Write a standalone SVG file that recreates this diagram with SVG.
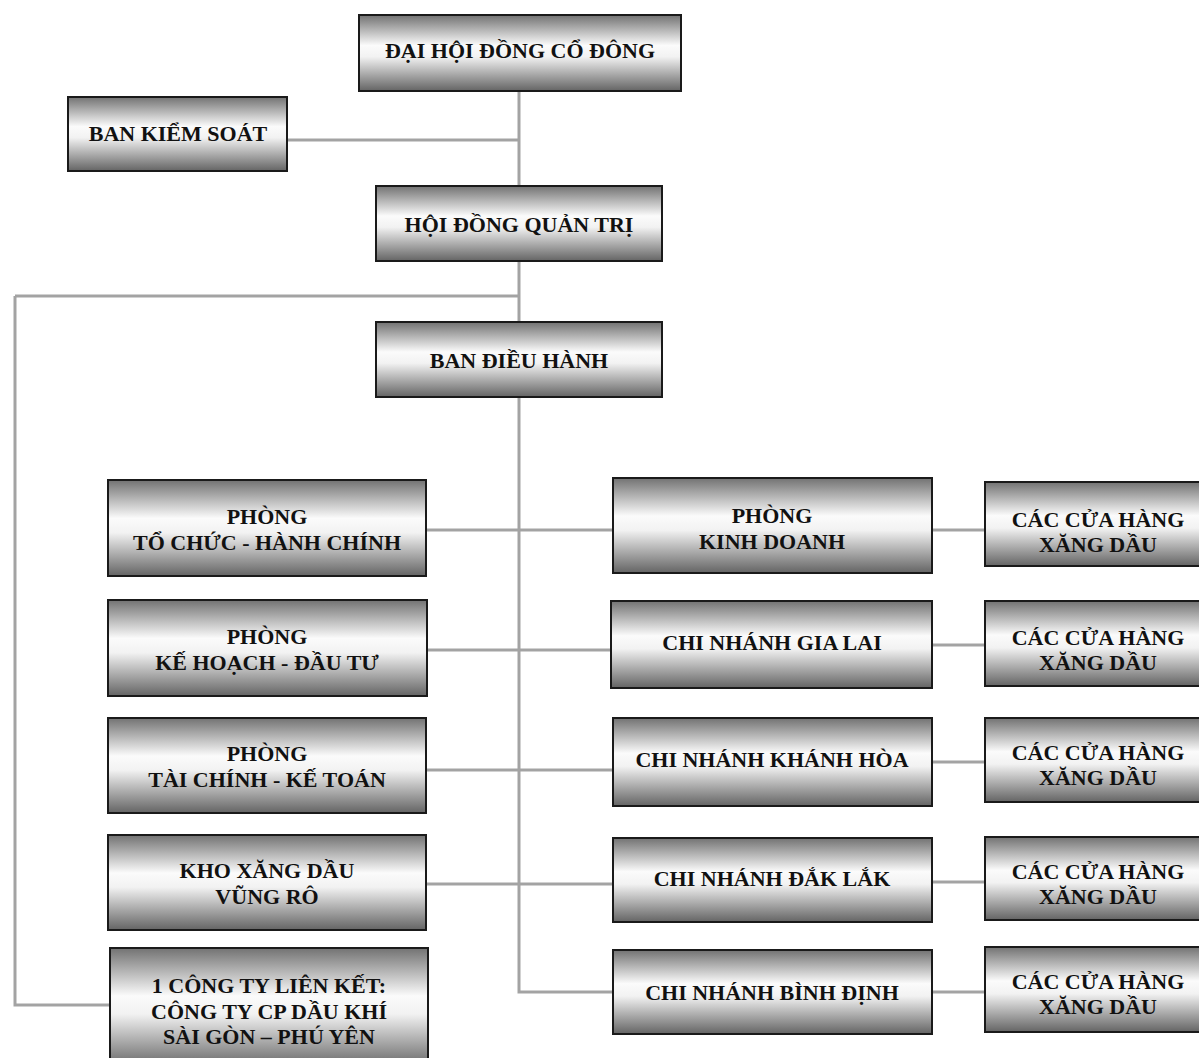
<svg xmlns="http://www.w3.org/2000/svg" width="1199" height="1058" viewBox="0 0 1199 1058">
<style>
.box{fill:url(#g);stroke:#1a1a1a;stroke-width:2}
.t{font-family:"Liberation Serif","Times New Roman",serif;font-weight:bold;font-size:22px;fill:#111;text-anchor:middle}
.c{fill:none;stroke:#a3a3a3;stroke-width:3}
</style>
<defs>
<linearGradient id="g" x1="0" y1="0" x2="0" y2="1">
<stop offset="0" stop-color="#727272"/>
<stop offset="0.4" stop-color="#fbfbfb"/>
<stop offset="0.55" stop-color="#f2f2f2"/>
<stop offset="1" stop-color="#646464"/>
</linearGradient>
</defs>
<rect width="1199" height="1058" fill="#fff"/>
<g id="connectors">
<path class="c" d="M519 91V186M519 261V322M519 397V992H613"/>
<path class="c" d="M287 140H519"/>
<path class="c" d="M15 296H519M15 296V1005H110"/>
<path class="c" d="M426 530H613M427 650H611M426 770H613M426 884H613"/>
<path class="c" d="M932 530H985M932 645H985M932 762H985M932 882H985M932 992H985"/>
</g>
<g id="dhdcd"><rect class="box" x="359" y="15" width="322" height="76"/><text class="t" x="520" y="58">ĐẠI HỘI ĐỒNG CỔ ĐÔNG</text></g>
<g id="bks"><rect class="box" x="68" y="97" width="219" height="74"/><text class="t" x="178" y="141">BAN KIỂM SOÁT</text></g>
<g id="hdqt"><rect class="box" x="376" y="186" width="286" height="75"/><text class="t" x="519" y="232">HỘI ĐỒNG QUẢN TRỊ</text></g>
<g id="bdh"><rect class="box" x="376" y="322" width="286" height="75"/><text class="t" x="519" y="368">BAN ĐIỀU HÀNH</text></g>

<g id="tchc"><rect class="box" x="108" y="480" width="318" height="96"/><text class="t" x="267" y="524">PHÒNG</text><text class="t" x="267" y="550">TỔ CHỨC - HÀNH CHÍNH</text></g>
<g id="khdt"><rect class="box" x="108" y="600" width="319" height="96"/><text class="t" x="267" y="644">PHÒNG</text><text class="t" x="267" y="670">KẾ HOẠCH - ĐẦU TƯ</text></g>
<g id="tckt"><rect class="box" x="108" y="718" width="318" height="95"/><text class="t" x="267" y="761">PHÒNG</text><text class="t" x="267" y="787">TÀI CHÍNH - KẾ TOÁN</text></g>
<g id="kho"><rect class="box" x="108" y="835" width="318" height="95"/><text class="t" x="267" y="878">KHO XĂNG DẦU</text><text class="t" x="267" y="904">VŨNG RÔ</text></g>
<g id="ctlk"><rect class="box" x="110" y="948" width="318" height="120"/><text class="t" x="269" y="993">1 CÔNG TY LIÊN KẾT:</text><text class="t" x="269" y="1019">CÔNG TY CP DẦU KHÍ</text><text class="t" x="269" y="1044">SÀI GÒN – PHÚ YÊN</text></g>

<g id="kd"><rect class="box" x="613" y="478" width="319" height="95"/><text class="t" x="772" y="523">PHÒNG</text><text class="t" x="772" y="549">KINH DOANH</text></g>
<g id="gl"><rect class="box" x="611" y="601" width="321" height="87"/><text class="t" x="772" y="650">CHI NHÁNH GIA LAI</text></g>
<g id="kh"><rect class="box" x="613" y="718" width="319" height="88"/><text class="t" x="772" y="767">CHI NHÁNH KHÁNH HÒA</text></g>
<g id="dl"><rect class="box" x="613" y="838" width="319" height="84"/><text class="t" x="772" y="886">CHI NHÁNH ĐẮK LẮK</text></g>
<g id="bd"><rect class="box" x="613" y="950" width="319" height="84"/><text class="t" x="772" y="1000">CHI NHÁNH BÌNH ĐỊNH</text></g>

<g id="ch1"><rect class="box" x="985" y="482" width="226" height="84"/><text class="t" x="1098" y="527">CÁC CỬA HÀNG</text><text class="t" x="1098" y="552">XĂNG DẦU</text></g>
<g id="ch2"><rect class="box" x="985" y="601" width="226" height="85"/><text class="t" x="1098" y="645">CÁC CỬA HÀNG</text><text class="t" x="1098" y="670">XĂNG DẦU</text></g>
<g id="ch3"><rect class="box" x="985" y="718" width="226" height="84"/><text class="t" x="1098" y="760">CÁC CỬA HÀNG</text><text class="t" x="1098" y="785">XĂNG DẦU</text></g>
<g id="ch4"><rect class="box" x="985" y="837" width="226" height="83"/><text class="t" x="1098" y="879">CÁC CỬA HÀNG</text><text class="t" x="1098" y="904">XĂNG DẦU</text></g>
<g id="ch5"><rect class="box" x="985" y="947" width="226" height="85"/><text class="t" x="1098" y="989">CÁC CỬA HÀNG</text><text class="t" x="1098" y="1014">XĂNG DẦU</text></g>
</svg>
